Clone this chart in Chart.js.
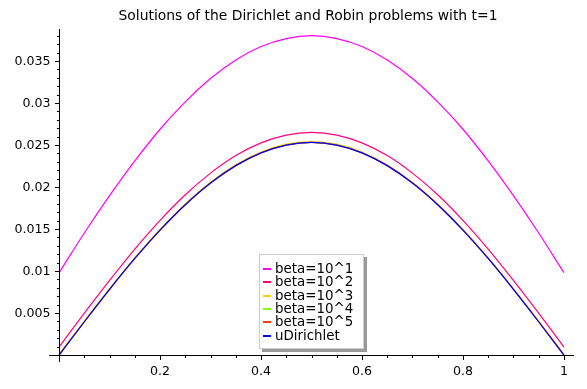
<!DOCTYPE html>
<html>
<head>
<meta charset="utf-8">
<script src="https://cdn.jsdelivr.net/npm/chart.js@4/dist/chart.umd.min.js"></script>
<style>
  html, body { margin: 0; padding: 0; background: #fff; }
  #wrap { position: relative; width: 587px; height: 389px; }
  #legend {
    position: absolute; left: 259px; top: 254px; width: 105px; height: 95px;
    background: #fff; border: 1px solid #ccc; box-shadow: 3px 3px 0 #999;
    font: 13.4px "DejaVu Sans", sans-serif; color: #000; box-sizing: border-box;
  }
  #legend .row { position: absolute; left: 15px; height: 14px; line-height: 14px; white-space: nowrap; }
  #legend .dash { position: absolute; left: 3px; width: 8px; height: 2px; }
</style>
</head>
<body>
<div id="wrap">
  <canvas id="chart" width="587" height="389"></canvas>
  <div id="legend"></div>
</div>
<script>
// x positions of the sampled solution
const xs = [0, 0.05, 0.1, 0.15, 0.2, 0.25, 0.3, 0.35, 0.4, 0.45, 0.5,
            0.55, 0.6, 0.65, 0.7, 0.75, 0.8, 0.85, 0.9, 0.95, 1];

const beta1 = [0.0098, 0.01452, 0.01896, 0.0231, 0.02687, 0.03013, 0.03291, 0.03511, 0.03671, 0.03766, 0.0380,
               0.03766, 0.03671, 0.03511, 0.03291, 0.03013, 0.02687, 0.0231, 0.01896, 0.01452, 0.0098];
const beta2 = [0.00095, 0.00498, 0.00888, 0.01261, 0.01603, 0.01908, 0.02165, 0.02374, 0.02525, 0.02618, 0.0265,
               0.02618, 0.02525, 0.02374, 0.02165, 0.01908, 0.01603, 0.01261, 0.00888, 0.00498, 0.00095];
const beta3 = [0.0001, 0.00405, 0.0079, 0.01157, 0.01495, 0.01797, 0.02056, 0.02263, 0.02416, 0.02509, 0.0254,
               0.02509, 0.02416, 0.02263, 0.02056, 0.01797, 0.01495, 0.01157, 0.0079, 0.00405, 0.0001];
const beta4 = [0.00001, 0.00397, 0.00783, 0.0115, 0.01488, 0.0179, 0.02048, 0.02255, 0.02407, 0.025, 0.02531,
               0.025, 0.02407, 0.02255, 0.02048, 0.0179, 0.01488, 0.0115, 0.00783, 0.00397, 0.00001];
const beta5 = [0, 0.00396, 0.00782, 0.01149, 0.01487, 0.01789, 0.02047, 0.02254, 0.02406, 0.02499, 0.0253,
               0.02499, 0.02406, 0.02254, 0.02047, 0.01789, 0.01487, 0.01149, 0.00782, 0.00396, 0];
const uDirichlet = [0, 0.00396, 0.00782, 0.01149, 0.01487, 0.01789, 0.02047, 0.02254, 0.02406, 0.02499, 0.0253,
                    0.02499, 0.02406, 0.02254, 0.02047, 0.01789, 0.01487, 0.01149, 0.00782, 0.00396, 0];

const seriesNames = ["beta=10^1", "beta=10^2", "beta=10^3", "beta=10^4", "beta=10^5", "uDirichlet"];
const seriesValues = [beta1, beta2, beta3, beta4, beta5, uDirichlet];
const seriesColors = ["#ff00ff", "#ff0080", "#ffcc00", "#80ff00", "#ff4000", "#0000ff"];

const xTicks = [0.2, 0.4, 0.6, 0.8, 1];
const xTickLabels = ["0.2", "0.4", "0.6", "0.8", "1"];
const yTicks = [0.005, 0.01, 0.015, 0.02, 0.025, 0.03, 0.035];
const yTickLabels = ["0.005", "0.01", "0.015", "0.02", "0.025", "0.03", "0.035"];
const title = "Solutions of the Dirichlet and Robin problems with t=1";

// sage-like axes drawn through the origin
const sageAxes = {
    id: "sageAxes",
    afterDraw(chart) {
        const ctx = chart.ctx;
        const xs_ = chart.scales.x, ys_ = chart.scales.y;
        const x0 = Math.round(xs_.getPixelForValue(0)) + 0.5;
        const y0 = Math.round(ys_.getPixelForValue(0)) + 0.5;
        ctx.save();
        ctx.strokeStyle = "#000";
        ctx.lineWidth = 1;
        ctx.beginPath();
        ctx.moveTo(chart.chartArea.left, y0);
        ctx.lineTo(chart.chartArea.right, y0);
        ctx.moveTo(x0, chart.chartArea.top);
        ctx.lineTo(x0, chart.chartArea.bottom);
        // minor ticks
        for (let i = 1; i <= 38; i++) {
            const p = Math.round(ys_.getPixelForValue(i * 0.001)) + 0.5;
            ctx.moveTo(x0, p);
            ctx.lineTo(x0 - (i % 5 === 0 ? 4.5 : 2.5), p);
        }
        for (let i = 1; i <= 20; i++) {
            const p = Math.round(xs_.getPixelForValue(i * 0.05)) + 0.5;
            ctx.moveTo(p, y0);
            ctx.lineTo(p, y0 + (i % 4 === 0 ? 4.5 : 2.5));
        }
        ctx.stroke();

        ctx.fillStyle = "#000";
        ctx.font = '12.6px "DejaVu Sans"';
        ctx.textAlign = "right";
        ctx.textBaseline = "middle";
        yTicks.forEach((v, i) => {
            ctx.fillText(yTickLabels[i], x0 - 9, ys_.getPixelForValue(v) + 0.5);
        });
        ctx.textAlign = "center";
        ctx.textBaseline = "top";
        xTicks.forEach((v, i) => {
            ctx.fillText(xTickLabels[i], xs_.getPixelForValue(v), y0 + 10);
        });
        ctx.font = '13.9px "DejaVu Sans"';
        ctx.textBaseline = "middle";
        ctx.fillText(title, 308, 16);
        ctx.restore();
    }
};

const datasets = seriesNames.map((name, i) => ({
    label: name,
    data: xs.map((x, j) => ({ x: x, y: seriesValues[i][j] })),
    borderColor: seriesColors[i],
    borderWidth: 1.2,
    pointRadius: 0,
    fill: false,
    cubicInterpolationMode: "monotone",
    order: seriesNames.length - i
}));

new Chart(document.getElementById("chart"), {
    type: "line",
    data: { datasets },
    options: {
        responsive: false,
        animation: false,
        layout: { padding: { left: 49, right: 13, top: 29, bottom: 27 } },
        scales: {
            x: { type: "linear", min: -0.02, max: 1.02, display: false },
            y: { type: "linear", min: -0.00083, max: 0.0388, display: false }
        },
        plugins: {
            legend: { display: false },
            title: { display: false },
            tooltip: { enabled: false }
        }
    },
    plugins: [sageAxes]
});

// legend entries, 13.3px apart, snapped to whole pixels
const legendBox = document.getElementById("legend");
seriesNames.forEach((name, i) => {
    const mid = Math.round(14 + i * 13.3);
    const dash = document.createElement("div");
    dash.className = "dash";
    dash.style.top = (mid - 1) + "px";
    dash.style.background = seriesColors[i];
    legendBox.appendChild(dash);
    const row = document.createElement("div");
    row.className = "row";
    row.style.top = (mid - 7) + "px";
    row.textContent = name;
    legendBox.appendChild(row);
});
</script>
</body>
</html>
